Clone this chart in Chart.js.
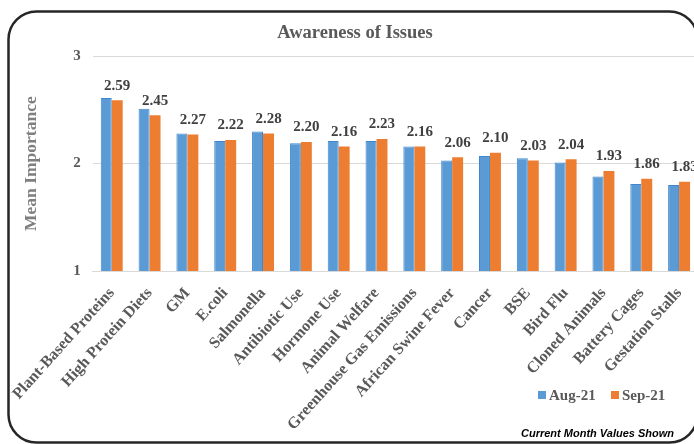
<!DOCTYPE html>
<html>
<head>
<meta charset="utf-8">
<script src="https://cdn.jsdelivr.net/npm/chart.js@4"></script>
<style>
  html, body { margin: 0; padding: 0; background: #fff; overflow: hidden; }
  #wrap { width: 710px; height: 444px; }
</style>
</head>
<body>
<div id="wrap"><canvas id="chart" width="710" height="444"></canvas></div>
<script>
// categories and values
const categories = [
  'Plant-Based Proteins', 'High Protein Diets', 'GM', 'E.coli', 'Salmonella',
  'Antibiotic Use', 'Hormone Use', 'Animal Welfare', 'Greenhouse Gas Emissions',
  'African Swine Fever', 'Cancer', 'BSE', 'Bird Flu', 'Cloned Animals',
  'Battery Cages', 'Gestation Stalls'
];
const aug21 = [2.61, 2.51, 2.28, 2.21, 2.30, 2.19, 2.21, 2.21, 2.16, 2.03, 2.07, 2.05, 2.01, 1.88, 1.81, 1.80];
const sep21 = [2.59, 2.45, 2.27, 2.22, 2.28, 2.20, 2.16, 2.23, 2.16, 2.06, 2.10, 2.03, 2.04, 1.93, 1.86, 1.83];
const yTicks = [1, 2, 3];

const serif = '"Liberation Serif", "Times New Roman", serif';

// cadre arrondi, etiquettes de valeurs, legende et note en bas
const decorPlugin = {
  id: 'decor',
  beforeDraw(chart) {
    const ctx = chart.ctx;
    ctx.save();
    ctx.fillStyle = '#fff';
    ctx.fillRect(0, 0, chart.width, chart.height);
    ctx.restore();
  },
  afterDraw(chart) {
    const ctx = chart.ctx;
    ctx.save();

    // valeurs du mois courant au dessus des barres oranges
    ctx.font = 'bold 15px ' + serif;
    ctx.fillStyle = '#404040';
    ctx.textAlign = 'center';
    ctx.textBaseline = 'bottom';
    chart.getDatasetMeta(1).data.forEach((bar, i) => {
      ctx.fillText(sep21[i].toFixed(2), bar.x, bar.y - 7);
    });

    // legende
    ctx.textAlign = 'left';
    ctx.textBaseline = 'middle';
    const legendPos = [538, 611];
    chart.data.datasets.forEach((ds, i) => {
      const x = legendPos[i];
      ctx.fillStyle = ds.backgroundColor;
      ctx.fillRect(x, 391, 8, 8);
      ctx.fillStyle = '#595959';
      ctx.fillText(ds.label, x + 11, 396);
    });

    // note
    ctx.font = 'italic bold 11px "Liberation Sans", Arial, sans-serif';
    ctx.fillStyle = '#000';
    ctx.textAlign = 'right';
    ctx.textBaseline = 'alphabetic';
    ctx.fillText('Current Month Values Shown', 674, 437);

    // cadre
    ctx.strokeStyle = '#262626';
    ctx.lineWidth = 2.5;
    ctx.beginPath();
    ctx.roundRect(8.5, 11.5, 689, 431, 28);
    ctx.stroke();
    ctx.restore();
  }
};

const config = {
  type: 'bar',
  data: {
    labels: categories,
    datasets: [
      {
        label: 'Aug-21',
        data: aug21,
        backgroundColor: '#5B9BD5',
        borderColor: '#3f87cc',
        borderWidth: 1,
        categoryPercentage: 0.58,
        barPercentage: 1.0,
      },
      {
        label: 'Sep-21',
        data: sep21,
        backgroundColor: '#ED7D31',
        borderWidth: 0,
        categoryPercentage: 0.58,
        barPercentage: 1.0,
      },
    ],
  },
  options: {
    responsive: false,
    animation: false,
    devicePixelRatio: 1,
    layout: { padding: { left: 12, right: 12, top: 0, bottom: 0 } },
    plugins: {
      legend: { display: false },
      tooltip: { enabled: false },
      title: {
        display: true,
        text: 'Awareness of Issues',
        color: '#595959',
        font: { family: serif, size: 18.5, weight: 'bold' },
        padding: { top: 22, bottom: 12 },
      },
    },
    scales: {
      x: {
        grid: { display: false, drawTicks: false },
        border: { color: '#d9d9d9', width: 1 },
        ticks: {
          color: '#595959',
          font: { family: serif, size: 16, weight: 'bold' },
          minRotation: 48,
          maxRotation: 48,
          autoSkip: false,
          padding: 13,
        },
        afterFit(scale) { scale.height = 173; },
      },
      y: {
        min: 1,
        max: 3,
        afterBuildTicks(scale) { scale.ticks = yTicks.map(v => ({ value: v })); },
        grid: { color: '#d9d9d9', drawTicks: false },
        border: { display: false },
        ticks: {
          color: '#595959',
          font: { family: serif, size: 15, weight: 'bold' },
          padding: 12,
        },
        title: {
          display: true,
          text: 'Mean Importance',
          color: '#7f7f7f',
          font: { family: serif, size: 17.5, weight: 'bold' },
          padding: { top: 8, bottom: 0 },
        },
        afterFit(scale) { scale.width = 80; },
      },
    },
  },
  plugins: [decorPlugin],
};

new Chart(document.getElementById('chart'), config);
</script>
</body>
</html>
